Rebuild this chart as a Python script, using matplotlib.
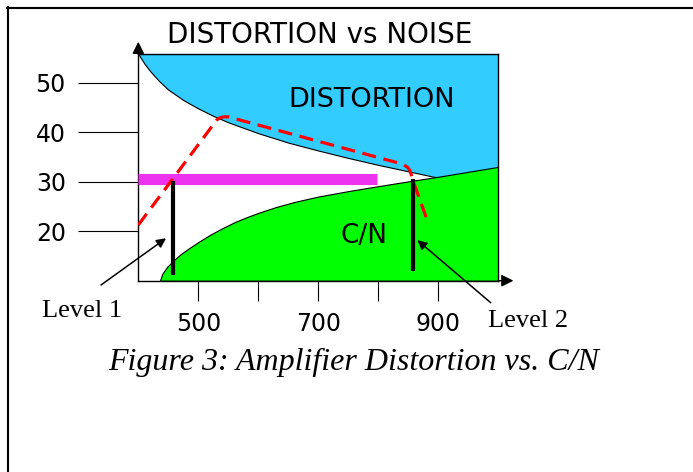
import numpy as np
import matplotlib.pyplot as plt
from matplotlib.lines import Line2D

# distortion boundary (lower edge of the blue area)
dist_x = [400, 410, 420, 435, 450, 475, 500, 525, 550, 575, 600, 650, 700, 750, 800, 850, 900, 1000]
dist_y = [55.8, 53.9, 52.3, 50.3, 48.6, 46.5, 44.8, 43.3, 42.0, 40.9, 39.8, 37.9, 36.3, 34.8, 33.4, 32.1, 30.8, 28.6]

# C/N boundary (upper edge of the green area)
cn_x = [436, 440, 448, 458, 470, 485, 500, 520, 540, 560, 580, 600, 630, 660, 700, 750, 800, 857, 900, 950, 1000]
cn_y = [10.0, 11.4, 12.8, 14.0, 15.3, 16.6, 17.8, 19.3, 20.6, 21.8, 22.8, 23.7, 24.9, 25.9, 27.0, 28.1, 29.1, 30.2, 31.0, 32.0, 33.0]

# red dashed operating curve
red_x = [400, 526, 531, 536, 542, 550, 836, 843, 849, 853, 855, 857, 883]
red_y = [21.25, 41.7, 42.5, 42.9, 43.1, 43.1, 33.7, 33.35, 32.9, 32.2, 31.4, 30.5, 21.7]

# magenta level
mag_x = [400, 798]
mag_y = [30.6, 30.6]

# the two level markers
lev_x = [457, 857]
lev_lo = [11.15, 12.0]
lev_hi = [30.1, 30.5]

xticks = [500, 600, 700, 800, 900]
xlabels = ["500", "", "700", "", "900"]
yticks = [20, 30, 40, 50]

W, H = 693, 472
fig = plt.figure(figsize=(W / 100, H / 100), dpi=100)
ax = fig.add_axes([138.3 / W, 1 - 280.7 / H, 360 / W, 226.7 / H])
ax.set_xlim(400, 1000)
ax.set_ylim(10, 55.8)

ax.fill_between(dist_x, dist_y, 55.8, color="#33CCFF", edgecolor="black", lw=0.8, zorder=1)
ax.fill_between(cn_x, 10, cn_y, color="#00FF00", edgecolor="black", lw=0.8, zorder=2)
ax.plot(mag_x, mag_y, color="#EE33EE", lw=8, solid_capstyle="butt", zorder=3)
ax.plot(red_x, red_y, color="#FF0000", lw=2.3, dashes=(4.4, 2.4), zorder=4)
for x, lo, hi in zip(lev_x, lev_lo, lev_hi):
    ax.plot([x, x], [lo, hi], color="black", lw=3, solid_capstyle="butt", zorder=5)

ax.text(789.5, 45.15, "DISTORTION", ha="center", va="baseline", fontsize=19.5,
        family="DejaVu Sans", zorder=6)
ax.text(776, 17.55, "C/N", ha="center", va="baseline", fontsize=19,
        family="DejaVu Sans", zorder=6)

for s in ax.spines.values():
    s.set_linewidth(1)
ax.set_xticks(xticks)
ax.set_xticklabels(xlabels)
ax.set_yticks(yticks)
ax.tick_params(axis="x", length=14.4, width=0.8, pad=8, labelsize=17)
ax.tick_params(axis="y", length=43.2, width=0.8, pad=9, labelsize=17)

# axis arrows
ax.annotate("", xy=(0, 1.054), xytext=(0, 1.0), xycoords="axes fraction",
            arrowprops=dict(arrowstyle="-|>", color="black", lw=1, mutation_scale=18,
                            shrinkA=0, shrinkB=0), annotation_clip=False)
ax.annotate("", xy=(1.042, 0), xytext=(1.0, 0), xycoords="axes fraction",
            arrowprops=dict(arrowstyle="-|>", color="black", lw=1, mutation_scale=18,
                            shrinkA=0, shrinkB=0), annotation_clip=False)

# level pointers
ax.annotate("", xy=(446.2, 18.57), xytext=(337.8, 9.13),
            arrowprops=dict(arrowstyle="-|>", color="black", lw=1.1, mutation_scale=14,
                            shrinkA=0, shrinkB=0), annotation_clip=False)
ax.annotate("", xy=(865, 18.2), xytext=(987.3, 5.56),
            arrowprops=dict(arrowstyle="-|>", color="black", lw=1.1, mutation_scale=14,
                            shrinkA=0, shrinkB=0), annotation_clip=False)

fig.text(319.3 / W, 1 - 42.7 / H, "DISTORTION vs NOISE", ha="center", va="baseline",
         fontsize=20, family="DejaVu Sans")
fig.text(81.7 / W, 1 - 317.3 / H, "Level 1", ha="center", va="baseline",
         fontsize=19, family="Liberation Serif")
fig.text(528 / W, 1 - 326.7 / H, "Level 2", ha="center", va="baseline",
         fontsize=19, family="Liberation Serif")
fig.text(353.3 / W, 1 - 370 / H, "Figure 3: Amplifier Distortion vs. C/N", ha="center",
         va="baseline", fontsize=23, family="Liberation Serif", style="italic")

# page frame (top and left edges)
fig.add_artist(Line2D([7 / W, 1], [1 - 7.5 / H] * 2, color="black", lw=1.5))
fig.add_artist(Line2D([7.5 / W] * 2, [0, 1 - 7 / H], color="black", lw=1.5))

fig.savefig("out.png", dpi=100)
